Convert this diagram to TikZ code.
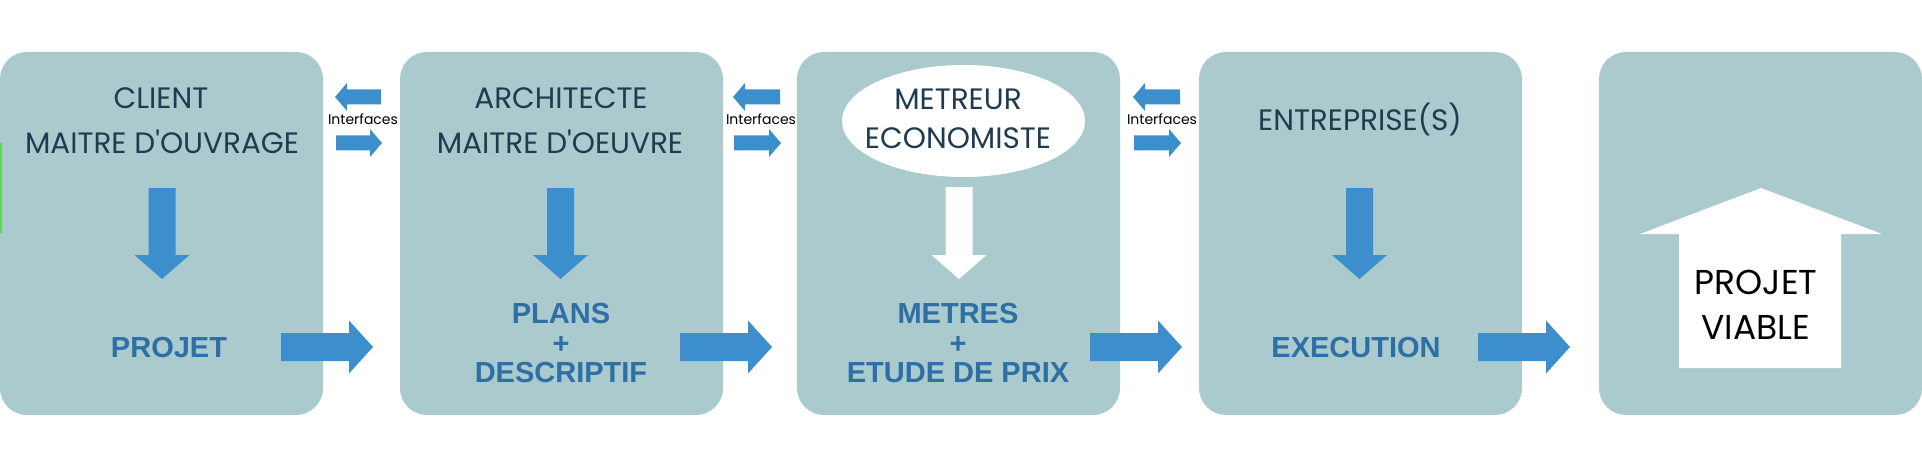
\documentclass[tikz,border=0pt]{standalone}
\usepackage{fontspec}
\setmainfont{Poppins}[Ligatures=TeXOff]
\newfontfamily\boldfam{Liberation Sans}
\definecolor{boxfill}{HTML}{AACACD}
\definecolor{arrowblue}{HTML}{3C8FCC}
\definecolor{boldblue}{HTML}{2E6FA5}
\definecolor{darktext}{HTML}{1F3B4F}
\definecolor{edgegreen}{HTML}{5CD65C}
% right block arrow: tail x, tip x, y, shaft half, head half, head length
\newcommand\myrarrow[7][arrowblue]{%
  \fill[#1] ({#2},{#4-#5}) -- ({#3-#7},{#4-#5}) -- ({#3-#7},{#4-#6}) -- ({#3},{#4})
    -- ({#3-#7},{#4+#6}) -- ({#3-#7},{#4+#5}) -- ({#2},{#4+#5}) -- cycle;}
% left block arrow: tail x, tip x (left), y, shaft half, head half, head length
\newcommand\mylarrow[7][arrowblue]{%
  \fill[#1] ({#2},{#4-#5}) -- ({#3+#7},{#4-#5}) -- ({#3+#7},{#4-#6}) -- ({#3},{#4})
    -- ({#3+#7},{#4+#6}) -- ({#3+#7},{#4+#5}) -- ({#2},{#4+#5}) -- cycle;}
% down block arrow: x, top y, tip y, shaft half, head half, head length
\newcommand\mydarrow[7][arrowblue]{%
  \fill[#1] ({#2-#5},{#3}) -- ({#2-#5},{#4-#7}) -- ({#2-#6},{#4-#7}) -- ({#2},{#4})
    -- ({#2+#6},{#4-#7}) -- ({#2+#5},{#4-#7}) -- ({#2+#5},{#3}) -- cycle;}
\tikzset{
  stagebox/.style={fill=boxfill, rounded corners=27pt},
  roletext/.style={text=darktext, font=\fontsize{29.5}{33}\selectfont, inner sep=0pt, text height=20.5pt, text depth=0pt},
  resulttext/.style={text=boldblue, font=\boldfam\bfseries\fontsize{29}{33}\selectfont, inner sep=0pt, text height=21pt, text depth=0pt},
  ifacetext/.style={text=black, font=\fontsize{14}{16}\selectfont, inner sep=0pt, text height=9.8pt, text depth=0pt},
  housetext/.style={text=black, font=\fontsize{34.5}{38}\selectfont, inner sep=0pt, text height=24pt, text depth=0pt},
}
\begin{document}
\begin{tikzpicture}[x=1pt,y=-1pt]
\useasboundingbox (0,0) rectangle (1922,468);
% boxes
\fill[stagebox] (0,52) rectangle (323,415);
\fill[stagebox] (400,52) rectangle (723,415);
\fill[stagebox] (797,52) rectangle (1120,415);
\fill[stagebox] (1199,52) rectangle (1522,415);
\fill[stagebox] (1599,52) rectangle (1922,415);
\fill[edgegreen] (0,143) rectangle (2,233);
% box 1
\node[roletext] (client) at (161,98) {CLIENT};
\node[roletext] (mo) at (162,143) {MAITRE D'OUVRAGE};
\mydarrow{162}{188}{279}{13.5}{27.5}{24}
\node[resulttext] (projet) at (169,347) {PROJET};
\myrarrow{281}{373}{347}{14}{26.5}{24}
% interfaces 1
\mylarrow{381}{335}{97}{7.5}{14}{12}
\node[ifacetext] (if1) at (363,120) {Interfaces};
\myrarrow{336}{382}{143}{7.5}{14}{12}
% box 2
\node[roletext] (archi) at (561,98) {ARCHITECTE};
\node[roletext] (moe) at (560,143) {MAITRE D'OEUVRE};
\mydarrow{560.5}{188}{279}{13.5}{27.5}{24}
\node[resulttext] (plans) at (561,313) {PLANS};
\node[resulttext] (plus1) at (561,343) {+};
\node[resulttext] (descr) at (561,372) {DESCRIPTIF};
\myrarrow{680}{772}{347}{14}{26.5}{24}
% interfaces 2
\mylarrow{780}{733}{97}{7.5}{14}{12}
\node[ifacetext] (if2) at (761,120) {Interfaces};
\myrarrow{734}{781}{143}{7.5}{14}{12}
% box 3
\fill[white] (963.5,121) ellipse [x radius=121.5, y radius=56];
\node[roletext] (metreur) at (958,99) {METREUR};
\node[roletext] (econ) at (958,138) {ECONOMISTE};
\mydarrow[white]{959}{187}{279}{13.5}{27.5}{24}
\node[resulttext] (metres) at (958,313) {METRES};
\node[resulttext] (plus2) at (958,343) {+};
\node[resulttext] (etude) at (958,372) {ETUDE DE PRIX};
\myrarrow{1090}{1182}{347}{14}{26.5}{24}
% interfaces 3
\mylarrow{1180}{1133}{97}{7.5}{14}{12}
\node[ifacetext] (if3) at (1162,120) {Interfaces};
\myrarrow{1134}{1181}{143}{7.5}{14}{12}
% box 4
\node[roletext] (entr) at (1360,120) {ENTREPRISE(S)};
\mydarrow{1359.5}{188}{279}{13.5}{27.5}{24}
\node[resulttext] (exec) at (1356,347) {EXECUTION};
\myrarrow{1478}{1570}{347}{14}{26.5}{24}
% box 5 house
\fill[white] (1761,188) -- (1882,234) -- (1841,234) -- (1841,368) -- (1679,368) -- (1679,234) -- (1640,234) -- cycle;
\node[housetext] (pv1) at (1756,282) {PROJET};
\node[housetext] (pv2) at (1756,327) {VIABLE};
\end{tikzpicture}
\end{document}
